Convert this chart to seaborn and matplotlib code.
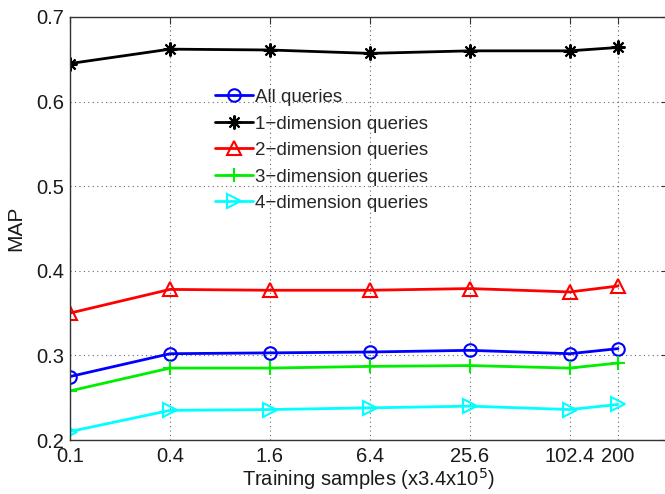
import matplotlib
matplotlib.use("Agg")
import matplotlib.pyplot as plt
import seaborn as sns
import pandas as pd
from matplotlib.ticker import NullLocator, FixedLocator, FixedFormatter

sns.set_style("white")
plt.rcParams['font.family'] = ['Liberation Sans', 'DejaVu Sans']

samples = [0.1, 0.4, 1.6, 6.4, 25.6, 102.4, 200]
tick_labels = ["0.1", "0.4", "1.6", "6.4", "25.6", "102.4", "200"]
all_q = [0.275, 0.302, 0.303, 0.304, 0.306, 0.302, 0.308]
dim1 = [0.645, 0.662, 0.661, 0.657, 0.660, 0.660, 0.664]
dim2 = [0.350, 0.378, 0.377, 0.377, 0.379, 0.375, 0.382]
dim3 = [0.258, 0.285, 0.285, 0.287, 0.288, 0.285, 0.291]
dim4 = [0.210, 0.235, 0.236, 0.238, 0.240, 0.236, 0.242]

series = [
    ("All queries", all_q, "#0000ff", "o", "none", 9),
    ("1\u2212dimension queries", dim1, "#000000", (8, 2, 0), "#000000", 10),
    ("2\u2212dimension queries", dim2, "#ff0000", "^", "none", 10),
    ("3\u2212dimension queries", dim3, "#00ee00", "+", "#00ee00", 10),
    ("4\u2212dimension queries", dim4, "#00ffff", ">", "none", 10),
]

fig = plt.figure(figsize=(6.65, 4.94), dpi=100)
ax = fig.add_axes([70/665, 1 - 440/494, 598/665, 423/494])

for name, vals, col, mk, mfc, ms in series:
    df = pd.DataFrame({"x": samples, "y": vals})
    sns.lineplot(data=df, x="x", y="y", ax=ax, color=col, marker=mk,
                 markerfacecolor=mfc, markeredgecolor=col, markersize=ms,
                 markeredgewidth=1.5, linewidth=2, label=name)

ax.set_xscale("log")
ax.set_xlim(0.1, 400)
ax.set_ylim(0.2, 0.7)
ax.xaxis.set_major_locator(FixedLocator(samples))
ax.xaxis.set_major_formatter(FixedFormatter(tick_labels))
ax.xaxis.set_minor_locator(NullLocator())
ax.set_yticks([0.2, 0.3, 0.4, 0.5, 0.6, 0.7])
ax.set_yticklabels(["0.2", "0.3", "0.4", "0.5", "0.6", "0.7"])
ax.tick_params(axis="both", direction="in", length=5, labelsize=14.5, top=True, right=True,
               color="#333333", labelcolor="#1a1a1a")
ax.tick_params(axis="x", pad=5)
ax.tick_params(axis="y", pad=4)
ax.grid(True, linestyle=(0, (1, 3)), color="#666666", linewidth=0.8)
for s in ax.spines.values():
    s.set_color("#333333")
    s.set_linewidth(1)

ax.set_xlabel("Training samples (x3.4x10$^5$)", fontsize=14.5, labelpad=0, color="#1a1a1a")
ax.set_ylabel("MAP", fontsize=15, labelpad=8, color="#1a1a1a")

leg = ax.legend(loc="upper left", bbox_to_anchor=(0.2425, 0.830), frameon=False,
                fontsize=13.5, handlelength=2.0, handletextpad=0.15, labelspacing=0.5,
                borderaxespad=0, borderpad=0)

fig.savefig("out.png", dpi=100)
